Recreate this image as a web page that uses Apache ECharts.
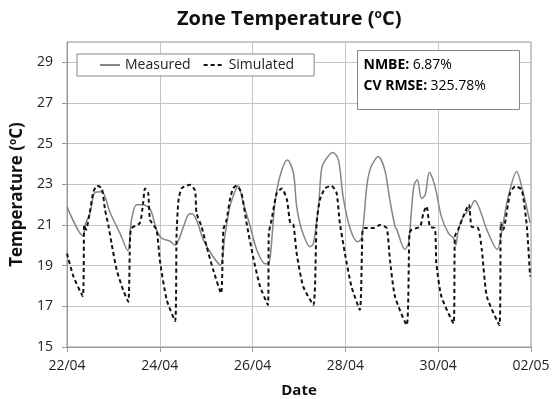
<!DOCTYPE html>
<html>
<head>
<meta charset="utf-8">
<script src="https://cdn.jsdelivr.net/npm/echarts@6/dist/echarts.min.js"></script>
<style>
  html, body { margin: 0; padding: 0; background: #fff; }
  #chart { width: 556px; height: 399px; }
</style>
</head>
<body>
<div id="chart"></div>
<script>
// x = days since 22/04 00:00
const dateLabels = ['22/04', '24/04', '26/04', '28/04', '30/04', '02/05'];

const measured = [
  [0.00, 21.9], [0.35, 20.46], [0.39, 21.0], [0.50, 21.6], [0.60, 22.6], [0.75, 22.64],
  [0.93, 21.6], [1.14, 20.6], [1.31, 19.74], [1.39, 21.25], [1.50, 22.0], [1.64, 22.0],
  [1.80, 21.74], [1.93, 20.76], [2.04, 20.35], [2.22, 20.2], [2.33, 20.0], [2.51, 20.92],
  [2.61, 21.5], [2.69, 21.55], [2.79, 21.25], [2.94, 20.27], [3.15, 19.44], [3.31, 19.03],
  [3.40, 20.43], [3.51, 21.9], [3.62, 22.65], [3.69, 22.93], [3.80, 22.07], [3.94, 21.0],
  [4.09, 19.78], [4.27, 19.1], [4.34, 19.1], [4.48, 22.07], [4.59, 23.4], [4.75, 24.2],
  [4.88, 23.56], [4.95, 21.9], [5.06, 20.76], [5.24, 19.93], [5.31, 20.1], [5.42, 21.9],
  [5.49, 23.8], [5.60, 24.3], [5.73, 24.57], [5.85, 24.2], [5.95, 22.4], [6.10, 20.84],
  [6.26, 20.18], [6.35, 20.35], [6.47, 23.06], [6.56, 23.9], [6.71, 24.37], [6.85, 23.7],
  [6.96, 22.2], [7.07, 20.92], [7.11, 20.76], [7.28, 19.8], [7.36, 20.1], [7.43, 21.9],
  [7.48, 22.97], [7.55, 23.23], [7.64, 22.3], [7.72, 22.49], [7.81, 23.6], [7.93, 22.9],
  [8.07, 21.4], [8.22, 20.6], [8.33, 20.35], [8.38, 20.0], [8.43, 20.7], [8.54, 21.4],
  [8.69, 21.83], [8.79, 22.2], [8.90, 21.74], [9.05, 20.76], [9.27, 19.8], [9.40, 21.1],
  [9.51, 22.4], [9.69, 23.63], [9.82, 22.7], [9.98, 21.1]
];

const simulated = [
  [0.00, 19.6], [0.14, 18.46], [0.34, 17.5], [0.37, 21.0], [0.41, 20.77], [0.50, 21.75],
  [0.57, 22.64], [0.65, 22.93], [0.75, 22.8], [0.82, 21.75], [0.89, 21.0], [0.96, 20.1],
  [1.07, 18.8], [1.21, 17.8], [1.32, 17.23], [1.36, 20.43], [1.39, 20.84], [1.57, 21.1],
  [1.64, 22.07], [1.68, 22.8], [1.75, 22.57], [1.79, 21.26], [1.93, 20.76], [2.00, 19.28],
  [2.15, 17.31], [2.33, 16.28], [2.36, 20.43], [2.40, 22.16], [2.47, 22.8], [2.65, 22.98],
  [2.76, 22.7], [2.79, 21.6], [2.90, 20.92], [3.01, 19.93], [3.15, 18.8], [3.32, 17.64],
  [3.37, 20.77], [3.44, 21.26], [3.51, 22.24], [3.58, 22.8], [3.66, 22.93], [3.76, 22.57],
  [3.87, 21.1], [4.01, 19.44], [4.16, 17.98], [4.33, 17.07], [4.35, 20.6], [4.41, 21.26],
  [4.52, 22.57], [4.63, 22.8], [4.74, 22.24], [4.81, 21.1], [4.88, 21.0], [4.95, 19.6],
  [5.09, 17.98], [5.31, 17.07], [5.38, 21.1], [5.45, 22.24], [5.56, 22.8], [5.70, 22.93],
  [5.81, 22.57], [5.88, 21.1], [5.99, 19.6], [6.13, 17.98], [6.31, 16.83], [6.37, 20.77],
  [6.42, 20.85], [6.60, 20.85], [6.75, 21.0], [6.89, 20.85], [6.96, 19.28], [7.07, 17.47],
  [7.32, 16.08], [7.38, 20.6], [7.43, 20.77], [7.61, 20.92], [7.68, 21.58], [7.75, 21.92],
  [7.82, 20.92], [7.93, 20.84], [7.96, 19.12], [8.07, 17.47], [8.33, 16.16], [8.36, 20.44],
  [8.43, 20.77], [8.54, 21.42], [8.66, 22.0], [8.72, 20.92], [8.86, 20.85], [8.94, 19.78],
  [9.05, 17.47], [9.32, 16.08], [9.35, 21.1], [9.40, 20.77], [9.55, 22.57], [9.66, 22.9],
  [9.80, 22.74], [9.91, 20.93], [9.98, 18.47]
];

const statLines = [['NMBE:', '6.87%'], ['CV RMSE:', '325.78%']];

const chart = echarts.init(document.getElementById('chart'));
const font = '"Open Sans", sans-serif';
const gridColor = '#c4c4c4';

chart.setOption({
  animation: false,
  textStyle: { fontFamily: font, color: '#222' },
  title: {
    text: '{t|Zone Temperature (}{s|o}{t|C)}',
    left: 172,
    top: 4,
    textStyle: {
      rich: {
        t: { fontFamily: font, fontSize: 20, fontWeight: 'bold', color: '#111' },
        s: { fontFamily: font, fontSize: 12, fontWeight: 'bold', color: '#111', verticalAlign: 'top', padding: [0, 0, 9, 0] }
      }
    }
  },
  legend: {
    left: 77,
    top: 54,
    padding: [4, 20, 4, 22],
    itemGap: 12,
    itemWidth: 20,
    itemHeight: 14,
    backgroundColor: '#fff',
    borderColor: '#888',
    borderWidth: 1,
    itemStyle: { opacity: 0 },
    textStyle: { fontFamily: font, fontSize: 14, color: '#222' },
    data: ['Measured', 'Simulated']
  },
  grid: {
    left: 67, right: 25, top: 42, bottom: 52,
    outerBoundsMode: 'none',
    show: true, borderColor: '#999', borderWidth: 1
  },
  xAxis: {
    type: 'value',
    min: 0,
    max: 10,
    interval: 2,
    name: 'Date',
    nameLocation: 'middle',
    nameGap: 36,
    nameTextStyle: { fontFamily: font, fontSize: 15, fontWeight: 'bold', color: '#111' },
    axisLine: { lineStyle: { color: '#999' } },
    axisTick: { show: true, length: 5, lineStyle: { color: '#999' } },
    axisLabel: {
      margin: 12,
      fontSize: 14,
      color: '#222',
      formatter: (v) => dateLabels[Math.round(v / 2)]
    },
    splitLine: { show: true, lineStyle: { color: gridColor } }
  },
  yAxis: {
    type: 'value',
    min: 15,
    max: 30,
    interval: 2,
    name: '{t|Temperature (}{s|o}{t|C)}',
    nameLocation: 'middle',
    nameGap: 33,
    nameTextStyle: {
      rich: {
        t: { fontFamily: font, fontSize: 17, fontWeight: 'bold', color: '#111' },
        s: { fontFamily: font, fontSize: 10, fontWeight: 'bold', color: '#111', verticalAlign: 'top', padding: [0, 0, 8, 0] }
      }
    },
    axisLine: { show: true, lineStyle: { color: '#999' } },
    axisTick: { show: true, length: 5, lineStyle: { color: '#999' } },
    axisLabel: { margin: 14, fontSize: 14, color: '#222', showMaxLabel: false },
    splitLine: { show: true, lineStyle: { color: gridColor } }
  },
  graphic: [
    {
      type: 'group',
      left: 357,
      top: 50,
      z: 100,
      zlevel: 1,
      children: [
        {
          type: 'rect',
          z: 100,
          shape: { x: 0, y: 0, width: 162, height: 59 },
          style: { fill: '#fff', stroke: '#888', lineWidth: 1 }
        },
        {
          type: 'text',
          z: 101,
          x: 6,
          y: 4,
          style: {
            text: statLines.map((l) => '{b|' + l[0] + '} {n|' + l[1] + '}').join('\n'),
            rich: {
              b: { fontFamily: font, fontSize: 14, fontWeight: 'bold', color: '#111', lineHeight: 21 },
              n: { fontFamily: font, fontSize: 14, color: '#222', lineHeight: 21 }
            }
          }
        }
      ]
    }
  ],
  series: [
    {
      name: 'Measured',
      type: 'line',
      data: measured,
      smooth: 0.3,
      symbol: 'none',
      lineStyle: { color: '#858585', width: 1.5 },
      itemStyle: { color: '#858585' }
    },
    {
      name: 'Simulated',
      type: 'line',
      data: simulated,
      smooth: 0.2,
      symbol: 'none',
      lineStyle: { color: '#111', width: 2, type: [4, 3] },
      itemStyle: { color: '#111' }
    }
  ]
});
</script>
</body>
</html>
